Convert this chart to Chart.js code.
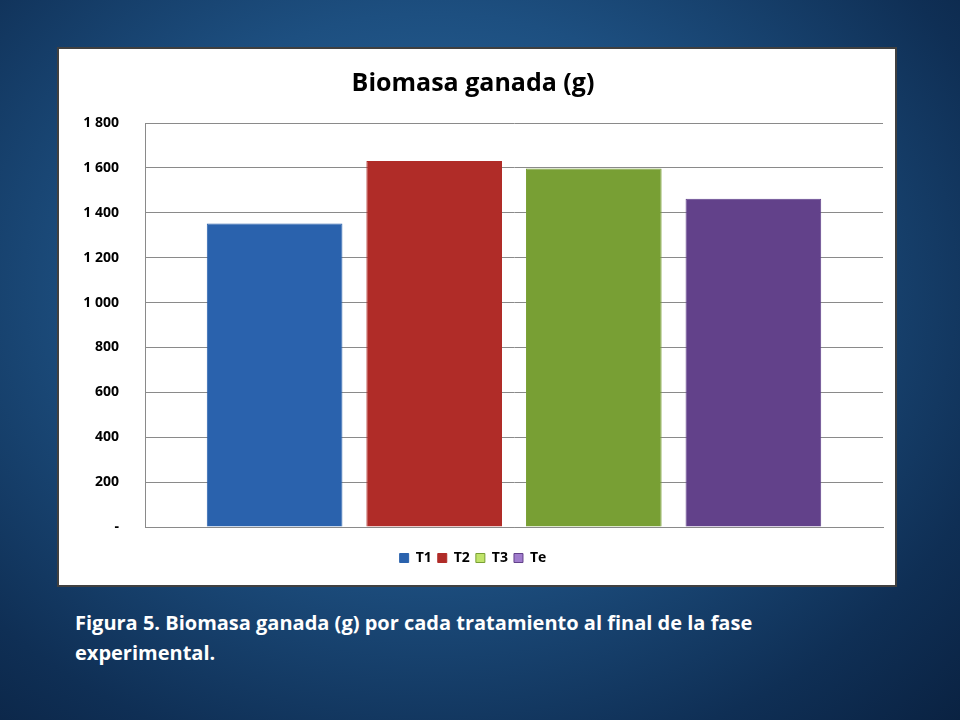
<!DOCTYPE html>
<html>
<head>
<meta charset="utf-8">
<script src="https://cdn.jsdelivr.net/npm/chart.js@4"></script>
<style>
  html, body { margin: 0; padding: 0; }
  body {
    width: 960px; height: 720px; overflow: hidden; position: relative;
    background: radial-gradient(ellipse at 45% 40%, #2f6fa6 0%, #1d4f80 45%, #0f2f55 80%, #0a2242 100%);
    font-family: "Open Sans", "Liberation Sans", sans-serif;
  }
  #box {
    position: absolute; left: 57px; top: 47px; width: 836px; height: 536px;
    background: #fff; border: 2px solid #404040;
  }
  #caption {
    position: absolute; left: 75px; top: 608px; width: 820px;
    color: #fff; font-weight: bold; font-size: 20px; line-height: 30px;
  }
</style>
</head>
<body>
<div id="box"><canvas id="chart"></canvas></div>
<div id="caption">Figura 5. Biomasa ganada (g) por cada tratamiento al final de la fase experimental.</div>
<script>
const treatments = ["T1", "T2", "T3", "Te"];
const biomass = [1352, 1631, 1597, 1462];
const barColors = [
    ["#6aa6e8", "#2a62ad"],
    ["#ee615a", "#b02c28"],
    ["#c0e46a", "#789f34"],
    ["#a07ccd", "#62418a"],
];
const yTicks = [0, 200, 400, 600, 800, 1000, 1200, 1400, 1600, 1800];

function fmt(v) {
    if (v === 0) return "-";
    return v.toString().replace(/\B(?=(\d{3})+(?!\d))/g, " ");
}

const datasets = treatments.map((name, i) => ({
    label: name,
    data: [biomass[i]],
    backgroundColor: (ctx) => {
        const el = ctx.element;
        if (!el || !el.width || !isFinite(el.x)) return barColors[i][1];
        const x0 = el.x - el.width / 2;
        const g = ctx.chart.ctx.createLinearGradient(x0, 0, x0 + el.width, 0);
        g.addColorStop(0, barColors[i][0]);
        g.addColorStop(0.5, barColors[i][1]);
        g.addColorStop(1, barColors[i][1]);
        return g;
    },
    borderColor: barColors[i][1],
    borderWidth: 1,
    barPercentage: 0.85,
    categoryPercentage: 0.865,
}));

Chart.defaults.font.family = "'Open Sans', 'Liberation Sans', sans-serif";
Chart.defaults.color = "#000";

new Chart(document.getElementById("chart"), {
    type: "bar",
    data: { labels: [""], datasets },
    options: {
        responsive: true,
        maintainAspectRatio: false,
        animation: false,
        layout: { padding: { left: 4, right: 12, top: 10, bottom: 10 } },
        plugins: {
            title: {
                display: true,
                text: "Biomasa ganada (g)",
                font: { size: 25, weight: "bold" },
                padding: { top: 10, bottom: 24 },
            },
            legend: {
                position: "bottom",
                labels: {
                    boxWidth: 9, boxHeight: 9, padding: 6,
                    font: { size: 14, weight: "bold" },
                },
            },
            tooltip: { enabled: false },
        },
        scales: {
            y: {
                min: 0, max: 1800,
                afterBuildTicks: (axis) => { axis.ticks = yTicks.map((v) => ({ value: v })); },
                afterFit: (axis) => { axis.width = 82; },
                ticks: { callback: (v) => fmt(v), font: { size: 14, weight: "bold" }, padding: 26 },
                grid: { color: "#8a8a8a", drawTicks: false },
                border: { display: true, color: "#8a8a8a" },
            },
            x: {
                afterFit: (axis) => { axis.height = 18; },
                grid: { display: false },
                ticks: { display: false },
                border: { color: "#8a8a8a" },
            },
        },
    },
});
</script>
</body>
</html>
